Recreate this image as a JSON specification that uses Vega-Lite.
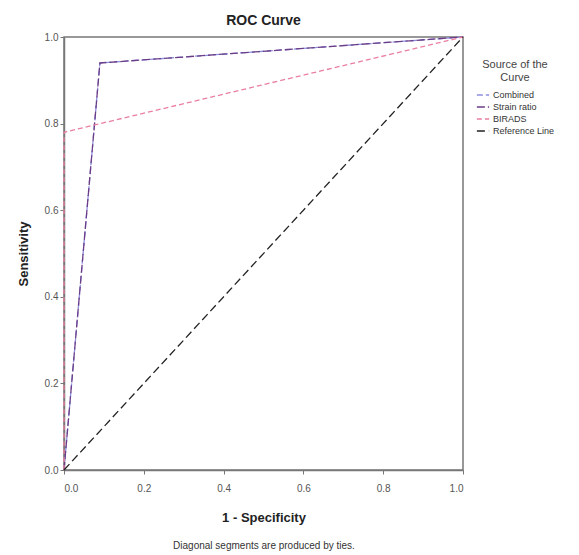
{
  "$schema": "https://vega.github.io/schema/vega-lite/v6.json",
  "autosize": "none",
  "width": 399,
  "height": 433,
  "padding": {"left": 64, "top": 37, "right": 116, "bottom": 85},
  "background": "white",
  "title": {"text": "ROC Curve", "font": "Liberation Sans", "fontSize": 14, "fontWeight": "bold", "color": "#222", "offset": 4, "anchor": "middle"},
  "config": {
    "font": "Liberation Sans",
    "view": {"stroke": "#777", "strokeWidth": 1.5},
    "axis": {"grid": false, "domainColor": "#777", "domainWidth": 1.5, "tickColor": "#777", "tickSize": 4, "labelColor": "#555", "labelFontSize": 10, "titleColor": "#222", "titleFontSize": 13, "titleFontWeight": "bold"}
  },
  "data": {"values": [
    {"series": "Combined", "fpr": 0, "tpr": 0, "o": 0},
    {"series": "Combined", "fpr": 0.09, "tpr": 0.94, "o": 1},
    {"series": "Combined", "fpr": 1, "tpr": 1, "o": 2},
    {"series": "Strain ratio", "fpr": 0, "tpr": 0, "o": 0},
    {"series": "Strain ratio", "fpr": 0.09, "tpr": 0.94, "o": 1},
    {"series": "Strain ratio", "fpr": 1, "tpr": 1, "o": 2},
    {"series": "BIRADS", "fpr": 0, "tpr": 0, "o": 0},
    {"series": "BIRADS", "fpr": 0, "tpr": 0.78, "o": 1},
    {"series": "BIRADS", "fpr": 1, "tpr": 1, "o": 2},
    {"series": "Reference Line", "fpr": 0, "tpr": 0, "o": 0},
    {"series": "Reference Line", "fpr": 1, "tpr": 1, "o": 1}
  ]},
  "layer": [
    {
      "mark": {"type": "line", "strokeWidth": 1.3, "clip": false},
      "encoding": {
        "x": {"field": "fpr", "type": "quantitative", "scale": {"domain": [0, 1], "nice": false}, "axis": {"title": "1 - Specificity", "format": ".1f", "values": [0, 0.2, 0.4, 0.6, 0.8, 1], "titlePadding": 18, "labelPadding": 9}},
        "y": {"field": "tpr", "type": "quantitative", "scale": {"domain": [0, 1], "nice": false}, "axis": {"title": "Sensitivity", "format": ".1f", "values": [0, 0.2, 0.4, 0.6, 0.8, 1], "titlePadding": 14}},
        "order": {"field": "o"},
        "color": {"field": "series", "type": "nominal", "scale": {"domain": ["Combined", "Strain ratio", "BIRADS", "Reference Line"], "range": ["#8f8fe0", "#6a3d86", "#ea7fa0", "#222222"]},
          "legend": {"title": ["Source of the", "Curve"], "titleFontSize": 11, "titleFontWeight": "normal", "titleColor": "#444", "titleAlign": "center", "titleAnchor": "middle", "labelFontSize": 9, "labelColor": "#333", "symbolType": "stroke", "symbolSize": 150, "symbolStrokeWidth": 1.3, "rowPadding": -1, "labelOffset": 3, "orient": "none", "legendX": 412, "legendY": 22}},
        "strokeDash": {"field": "series", "type": "nominal", "scale": {"domain": ["Combined", "Strain ratio", "BIRADS", "Reference Line"], "range": [[6, 3], [8, 3], [5, 3], [8, 4]]}, "legend": null}
      }
    },
    {
      "mark": {"type": "rule", "opacity": 0},
      "encoding": {
        "x": {"datum": 0, "type": "quantitative", "axis": {"orient": "bottom", "title": "Diagonal segments are produced by ties.", "titleFontWeight": "normal", "titleFontSize": 10, "titleColor": "#333", "labels": false, "ticks": false, "domain": false, "offset": 66}}
      }
    }
  ],
  "resolve": {"axis": {"x": "independent"}}
}
